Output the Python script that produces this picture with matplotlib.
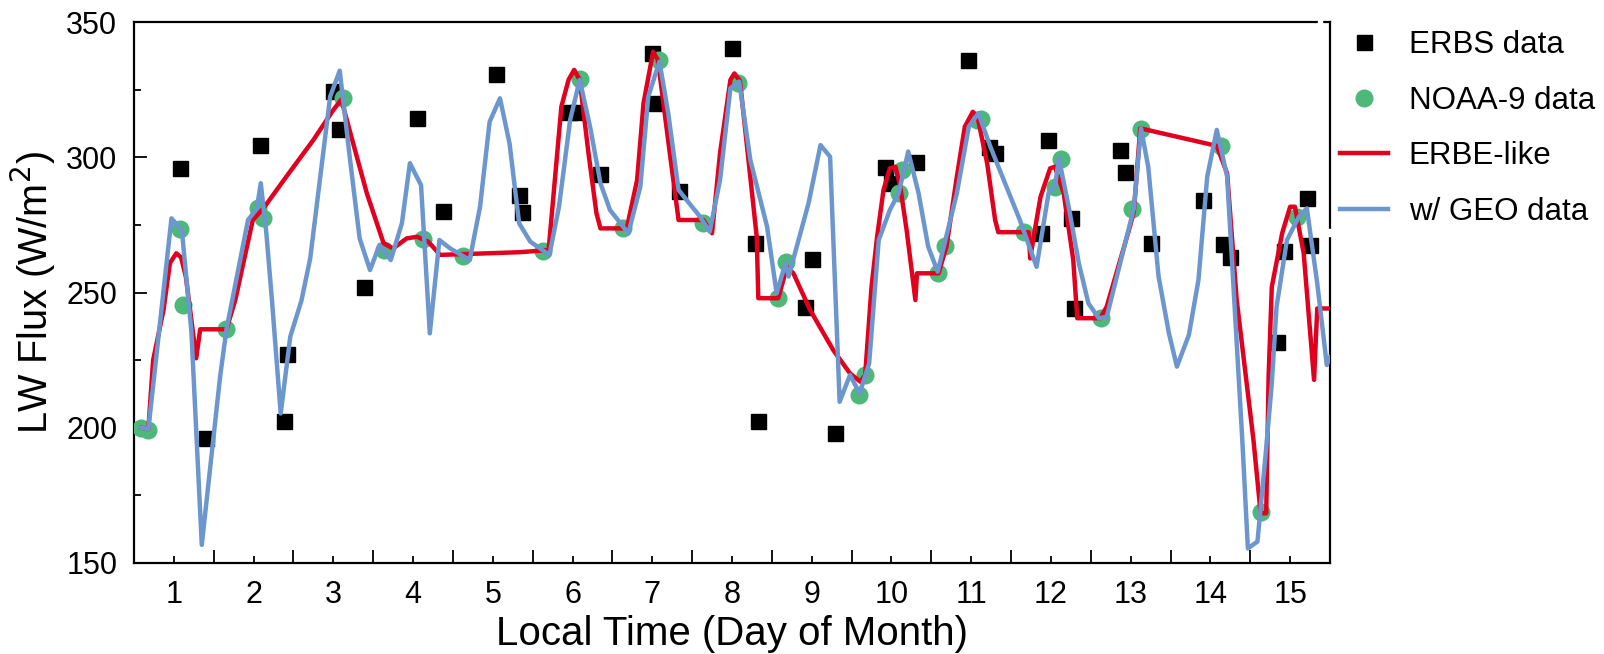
import matplotlib
matplotlib.use('Agg')
import matplotlib.pyplot as plt
from matplotlib.patches import Rectangle
import numpy as np

plt.rcParams['font.family'] = ['Liberation Sans', 'DejaVu Sans']

# ERBS scanner samples (day, W/m2)
erbs_x = [1.08, 1.40, 2.08, 2.38, 2.42, 2.99, 3.07, 3.38, 4.05, 4.38, 5.04, 5.33, 5.37,
          5.95, 6.06, 6.35, 7.00, 7.05, 7.34, 8.00, 8.29, 8.33, 8.92, 9.00, 9.29, 9.92,
          10.00, 10.31, 10.96, 11.22, 11.30, 11.87, 11.96, 12.25, 12.29, 12.87, 12.93,
          13.25, 13.91, 14.16, 14.25, 14.83, 14.92, 15.21, 15.25]
erbs_y = [296.0, 196.3, 304.5, 202.5, 227.3, 324.6, 310.3, 252.0, 314.5, 280.2, 330.8, 286.0, 279.6,
          316.8, 316.8, 293.8, 338.4, 320.2, 287.5, 340.5, 268.2, 202.5, 244.8, 262.4, 197.9, 296.5,
          290.4, 298.1, 336.0, 303.9, 301.5, 271.9, 306.4, 277.4, 244.1, 302.7, 294.4,
          268.2, 284.2, 267.9, 263.2, 231.8, 265.5, 285.1, 267.6]

# NOAA-9 samples
noaa_x = [0.59, 0.68, 1.08, 1.12, 1.66, 2.05, 2.12, 3.12, 3.63, 4.12, 4.62, 5.63, 6.09, 6.63,
          7.09, 7.64, 8.08, 8.58, 8.68, 9.59, 9.67, 10.09, 10.13, 10.58, 10.67, 11.07, 11.12,
          11.66, 12.05, 12.13, 12.63, 13.02, 13.13, 14.13, 14.63, 15.09]
noaa_y = [200.0, 199.2, 273.4, 245.4, 236.4, 281.1, 277.4, 321.8, 265.7, 269.8, 263.6, 265.3, 328.8, 273.7,
          336.0, 275.8, 327.3, 247.9, 261.2, 212.1, 219.5, 286.9, 295.3, 257.1, 267.2, 313.8, 314.0,
          272.4, 289.1, 299.3, 240.7, 281.0, 310.4, 304.2, 169.0, 278.0]

# ERBE-like time interpolation
erbe_x = [0.59, 0.68, 0.74, 0.87, 0.95, 1.03, 1.09, 1.15, 1.22, 1.28, 1.33, 1.66, 1.77, 1.99,
          2.12, 2.41, 2.75, 3.00, 3.10, 3.25, 3.42, 3.63, 3.75, 3.92, 4.05, 4.19, 4.34, 5.34,
          5.70, 5.86, 5.95, 6.02, 6.09, 6.20, 6.30, 6.35, 6.68, 6.81, 6.89, 7.01, 7.07, 7.22,
          7.33, 7.64, 7.75, 7.85, 7.98, 8.03, 8.10, 8.31, 8.33, 8.58, 8.69, 8.77, 8.98, 9.27,
          9.48, 9.61, 9.67, 9.75, 9.82, 9.90, 9.98, 10.05, 10.11, 10.19, 10.30, 10.32, 10.59,
          10.69, 10.82, 10.92, 11.02, 11.08, 11.20, 11.30, 11.34, 11.72, 11.74, 11.78, 11.87,
          11.99, 12.05, 12.16, 12.28, 12.33, 12.62, 12.70, 12.99, 13.04, 13.12, 14.08, 14.21,
          14.33, 14.54, 14.63, 14.70, 14.73, 14.77, 14.90, 15.00, 15.06, 15.17, 15.30, 15.34, 15.50]
erbe_y = [200.0, 199.5, 225.0, 243.5, 260.8, 264.5, 263.0, 255.9, 239.8, 225.7, 236.4, 236.4, 247.2, 276.8,
          281.0, 292.8, 306.4, 317.5, 321.3, 305.0, 286.7, 268.2, 266.3, 270.0, 270.6, 268.8, 263.9, 264.9,
          265.7, 318.7, 328.6, 332.3, 328.6, 301.5, 279.3, 273.7, 273.7, 291.6, 319.9, 339.0, 336.0, 301.5,
          276.8, 276.8, 271.9, 301.5, 328.6, 331.0, 328.2, 270.6, 247.9, 247.9, 259.5, 257.1, 243.5, 228.7,
          220.1, 217.0, 219.5, 252.1, 270.6, 287.9, 295.9, 296.5, 289.1, 273.1, 247.2, 257.1, 257.1,
          267.0, 292.8, 311.3, 316.8, 314.8, 297.8, 276.8, 272.3, 272.3, 262.6, 270.0, 285.4,
          295.9, 296.5, 286.7, 262.0, 240.5, 240.5, 244.8, 274.3, 279.9, 310.7, 304.2, 294.0,
          247.2, 195.5, 168.4, 168.4, 218.9, 252.1, 271.9, 281.7, 281.7, 264.5, 217.7, 244.1, 244.1]

# with GEO data
geo_x = [0.59, 0.68, 0.97, 1.10, 1.22, 1.35, 1.58, 1.66, 1.93, 2.04, 2.09, 2.16, 2.23, 2.34,
         2.46, 2.60, 2.71, 2.96, 3.08, 3.21, 3.33, 3.46, 3.58, 3.72, 3.86, 3.96, 4.10, 4.21,
         4.33, 4.46, 4.71, 4.84, 4.96, 5.09, 5.21, 5.33, 5.47, 5.71, 5.83, 5.97, 6.09, 6.22,
         6.35, 6.47, 6.70, 6.85, 6.95, 7.09, 7.20, 7.33, 7.60, 7.72, 7.85, 7.98, 8.09, 8.23,
         8.44, 8.56, 8.67, 8.71, 8.96, 9.11, 9.23, 9.35, 9.48, 9.60, 9.72, 9.84, 9.98, 10.09,
         10.21, 10.34, 10.46, 10.58, 10.82, 10.97, 11.09, 11.24, 11.61, 11.82, 11.97, 12.05,
         12.10, 12.23, 12.35, 12.47, 12.60, 12.70, 13.04, 13.13, 13.22, 13.35, 13.48, 13.58,
         13.73, 13.85, 13.96, 14.08, 14.21, 14.40, 14.47, 14.59, 14.69, 14.77, 14.83, 14.96,
         15.11, 15.21, 15.34, 15.46, 15.50]
geo_y = [200.0, 199.5, 277.4, 273.1, 235.5, 156.7, 218.9, 236.4, 276.8, 281.0, 290.4, 271.9, 247.2, 205.3,
         233.7, 247.0, 262.6, 322.4, 332.0, 299.0, 270.0, 258.3, 267.6, 262.0, 275.6, 297.8, 289.7, 234.9,
         269.4, 266.4, 262.0, 281.7, 313.1, 321.8, 305.1, 275.6, 268.8, 263.9, 281.7, 313.8, 328.6, 311.3,
         290.4, 280.5, 271.9, 289.1, 322.4, 335.4, 316.3, 287.9, 278.0, 272.5, 291.6, 325.5, 328.0, 299.0,
         274.3, 249.7, 260.8, 255.9, 283.0, 304.5, 300.2, 209.6, 219.5, 212.7, 223.8, 269.4, 280.5, 286.7,
         302.1, 286.7, 267.0, 257.7, 286.7, 311.3, 316.3, 303.9, 276.8, 259.5, 286.7, 289.1,
         299.6, 280.5, 260.8, 246.0, 240.5, 241.0, 281.1, 310.7, 296.5, 255.9, 234.9, 222.6,
         234.3, 254.6, 292.8, 310.1, 292.8, 195.5, 155.4, 157.9, 189.3, 216.4, 244.8, 269.4,
         278.0, 281.1, 253.4, 223.2, 226.0]

day_labels = [str(d) for d in range(1, 16)]

fig = plt.figure(figsize=(16.04, 6.54), dpi=100)
ax = fig.add_axes([134 / 1604, 1 - 563 / 654, (1330 - 134) / 1604, (563 - 22) / 654])

ax.plot(erbs_x, erbs_y, 's', color='black', ms=10.8, label='ERBS data', zorder=2)
ax.plot(noaa_x, noaa_y, 'o', color='#4DB87A', mec='none', ms=13, label='NOAA-9 data', zorder=3)
ax.plot(erbe_x, erbe_y, '-', color='#E2001F', lw=3.2, label='ERBE-like', zorder=4)
ax.plot(geo_x, geo_y, '-', color='#6B96CE', lw=3.2, label='w/ GEO data', zorder=5)

ax.set_xlim(0.5, 15.5)
ax.set_ylim(150, 350)

# labels sit at day numbers, long ticks mark the day boundaries
ax.set_xticks(range(1, 16))
ax.set_xticklabels(day_labels)
ax.set_xticks(np.arange(0.5, 15.6, 1.0), minor=True)
ax.set_yticks([150, 200, 250, 300, 350])
ax.set_yticks([175, 225, 275, 325], minor=True)
ax.tick_params(axis='x', which='major', direction='in', length=5, width=1.3, pad=12, labelsize=22)
ax.tick_params(axis='x', which='minor', direction='in', length=9.5, width=1.3)
ax.tick_params(axis='y', which='major', direction='in', length=9.5, width=1.3, pad=12, labelsize=22)
ax.tick_params(axis='y', which='minor', direction='in', length=5, width=1.3)
for s in ax.spines.values():
    s.set_linewidth(1.6)

ax.set_xlabel('Local Time (Day of Month)', fontsize=29, labelpad=4)
ax.set_ylabel('LW Flux (W/m$^2$)', fontsize=28.5, labelpad=6)

ax.legend(loc='upper left', bbox_to_anchor=(1340 / 1604, 1 - 30 / 654),
          bbox_transform=fig.transFigure, frameon=False, fontsize=22.5,
          borderpad=0, borderaxespad=0, labelspacing=0.82,
          handlelength=1.55, handletextpad=0.65)

# little breaks in the frame, as in the original
fig.patches.append(Rectangle((1318 / 1604, 1 - 25 / 654), 4 / 1604, 6 / 654,
                             transform=fig.transFigure, color='white', zorder=10))
fig.patches.append(Rectangle((1327 / 1604, 1 - 236 / 654), 6 / 1604, 7 / 654,
                             transform=fig.transFigure, color='white', zorder=10))

fig.savefig('out.png', dpi=100)
